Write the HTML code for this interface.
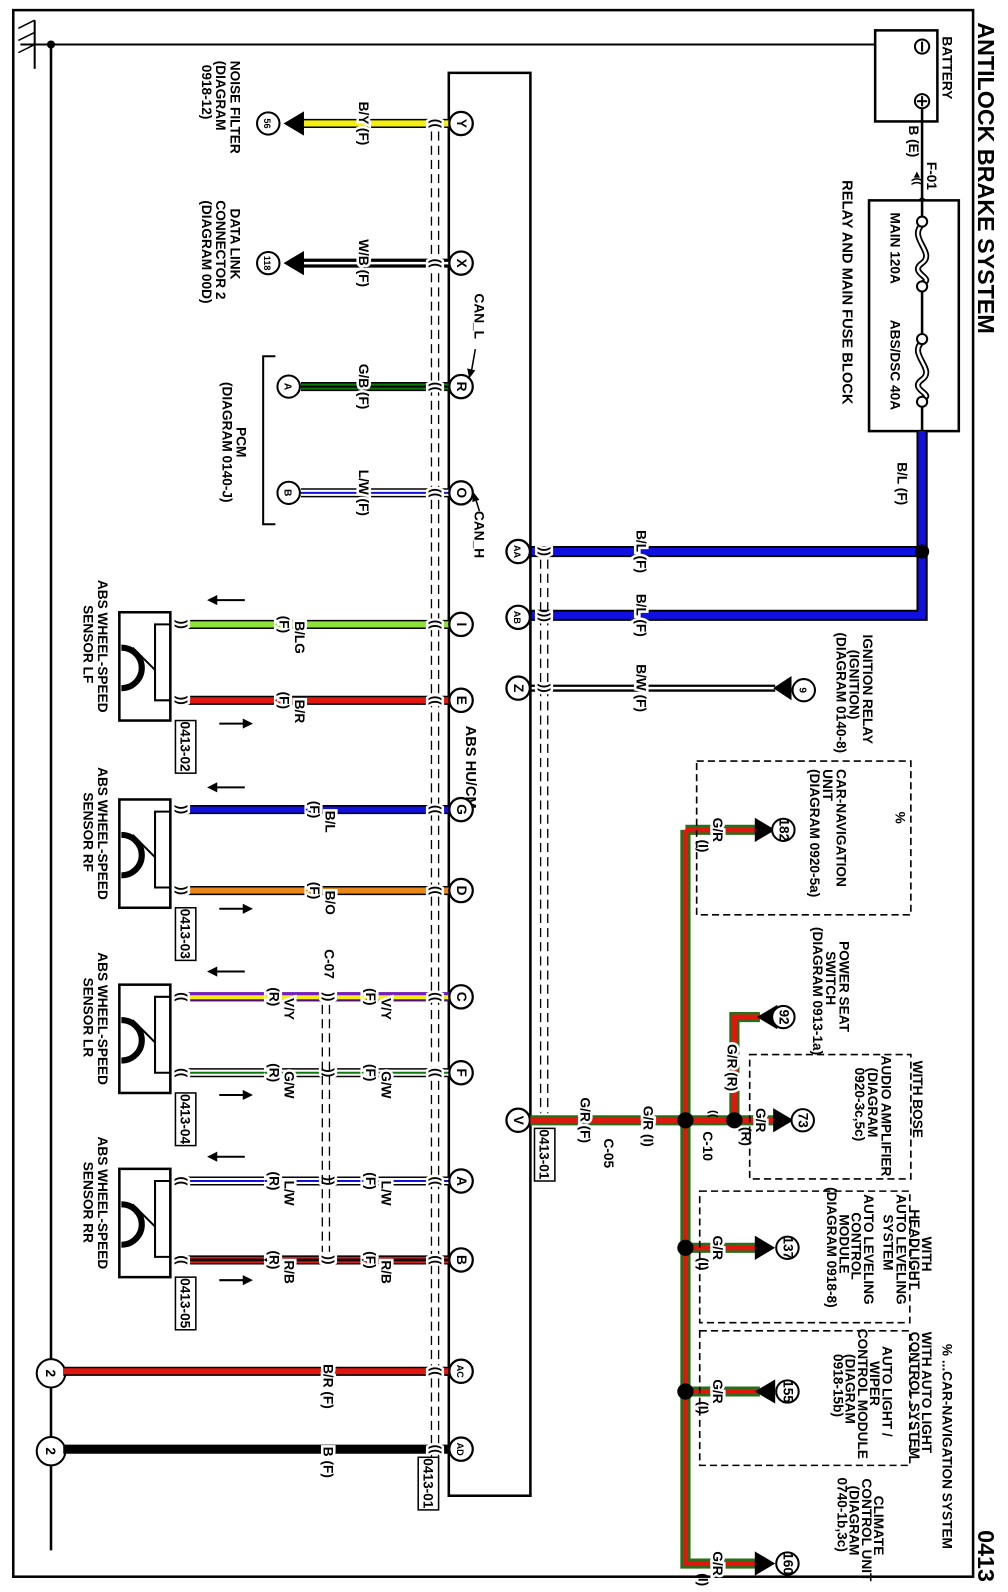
<!DOCTYPE html>
<html><head><meta charset="utf-8"><style>
html,body{margin:0;padding:0;background:#fff}
svg{display:block}
text{font-family:"Liberation Sans",sans-serif;font-weight:bold;font-size:13.5px;fill:#000}
.lb{stroke:#fff;stroke-width:5px;paint-order:stroke}
.k{stroke:#000;fill:none}
.d{stroke:#000;stroke-dasharray:7 4;fill:none;stroke-width:1.6}
</style></head><body>
<svg width="1008" height="1592" viewBox="0 0 1008 1592" xmlns="http://www.w3.org/2000/svg">
<g transform="scale(1.02,1.012)">
<rect x="13" y="10" width="941" height="1548" fill="none" stroke="#000" stroke-width="2.5"/>
<text transform="translate(959,22) rotate(90)" style="font-size:23px">ANTILOCK BRAKE SYSTEM</text>
<text transform="translate(959,1512) rotate(90)" style="font-size:23px">0413</text>
<line x1="20" y1="44" x2="868" y2="44" class="k" stroke-width="2"/>
<line x1="50" y1="44" x2="50" y2="1532" class="k" stroke-width="2.5"/>
<circle cx="50" cy="44" r="4"/>
<line x1="34" y1="20" x2="34" y2="68" class="k" stroke-width="2"/>
<line x1="18" y1="28" x2="34" y2="20" class="k" stroke-width="1.5"/><line x1="18" y1="40" x2="34" y2="32" class="k" stroke-width="1.5"/><line x1="18" y1="52" x2="34" y2="44" class="k" stroke-width="1.5"/>
<circle cx="50" cy="1357" r="14" fill="#fff" stroke="#000" stroke-width="2"/><text transform="translate(45,1357) rotate(90)" text-anchor="middle">2</text>
<circle cx="50" cy="1434" r="14" fill="#fff" stroke="#000" stroke-width="2"/><text transform="translate(45,1434) rotate(90)" text-anchor="middle">2</text>
<rect x="858" y="30" width="61" height="90" fill="#fff" stroke="#000" stroke-width="2.5"/>
<circle cx="904" cy="46" r="7" fill="#fff" stroke="#000" stroke-width="2"/><line x1="904" y1="41" x2="904" y2="51" class="k" stroke-width="2"/>
<circle cx="904" cy="100" r="7" fill="#fff" stroke="#000" stroke-width="2"/><line x1="904" y1="95" x2="904" y2="105" class="k" stroke-width="2"/><line x1="899" y1="100" x2="909" y2="100" class="k" stroke-width="2"/>
<text transform="translate(924,36) rotate(90)">BATTERY</text>
<line x1="904" y1="107" x2="904" y2="200" class="k" stroke-width="2.5"/>
<text transform="translate(891,124) rotate(90)">B (E)</text>
<text transform="translate(909,160) rotate(90)">F-01</text>
<text transform="translate(896,170) rotate(90)" style="font-size:11px">◂((</text>
<circle cx="904" cy="198" r="3"/>
<rect x="852" y="198" width="88" height="228" fill="#fff" stroke="#000" stroke-width="2.5"/>
<line x1="904" y1="198" x2="904" y2="218" class="k" stroke-width="2.5"/>
<line x1="904" y1="284" x2="904" y2="334" class="k" stroke-width="2.5"/>
<line x1="904" y1="398" x2="904" y2="426" class="k" stroke-width="2.5"/>
<path d="M904 222 C890 235,918 250,904 260 C890 270,918 275,904 280" class="k" stroke-width="6"/>
<path d="M904 222 C890 235,918 250,904 260 C890 270,918 275,904 280" stroke="#fff" stroke-width="2.5" fill="none"/>
<path d="M904 338 C890 350,918 365,904 375 C890 385,918 390,904 394" class="k" stroke-width="6"/>
<path d="M904 338 C890 350,918 365,904 375 C890 385,918 390,904 394" stroke="#fff" stroke-width="2.5" fill="none"/>
<circle cx="904" cy="219" r="5" fill="#fff" stroke="#000" stroke-width="2"/><circle cx="904" cy="283" r="5" fill="#fff" stroke="#000" stroke-width="2"/>
<circle cx="904" cy="335" r="5" fill="#fff" stroke="#000" stroke-width="2"/><circle cx="904" cy="397" r="5" fill="#fff" stroke="#000" stroke-width="2"/>
<text transform="translate(873,210) rotate(90)">MAIN 120A</text>
<text transform="translate(873,316) rotate(90)">ABS/DSC 40A</text>
<text transform="translate(826,178) rotate(90)" style="font-size:14.5px">RELAY AND MAIN FUSE BLOCK</text>
<path d="M904 426 V608 H520 M904 545 H520" stroke="#000" stroke-width="11" fill="none"/>
<path d="M904 426 V608 H520 M904 545 H520" stroke="#1010e0" stroke-width="7" fill="none"/>
<circle cx="904" cy="545" r="7"/>
<text class="lb" transform="translate(880,478) rotate(90)" text-anchor="middle">B/L (F)</text>
<text class="lb" transform="translate(624,545) rotate(90)" text-anchor="middle">B/L (F)</text>
<text class="lb" transform="translate(624,608) rotate(90)" text-anchor="middle">B/L (F)</text>
<line x1="520" y1="680" x2="760" y2="680" stroke="#000" stroke-width="7"/><line x1="520" y1="680" x2="760" y2="680" stroke="#fff" stroke-width="2.5"/>
<polygon points="758,680 776,668 776,692"/>
<circle cx="788" cy="682" r="11" fill="#fff" stroke="#000" stroke-width="2"/><text transform="translate(784,682) rotate(90)" text-anchor="middle" style="font-size:10px">9</text>
<text class="lb" transform="translate(624,680) rotate(90)" text-anchor="middle">B/W (F)</text>
<text transform="translate(846,627) rotate(90)">IGNITION RELAY</text>
<text transform="translate(833,642) rotate(90)">(IGNITION)</text>
<text transform="translate(820,625) rotate(90)">(DIAGRAM 0140-8)</text>
<rect x="440" y="72" width="80" height="1406" fill="#fff" stroke="#000" stroke-width="2.5"/>
<text transform="translate(457,717) rotate(90)" style="font-size:14.5px">ABS HU/CM</text>
<line x1="423" y1="130" x2="423" y2="1440" stroke="#000" stroke-width="1.3" stroke-dasharray="9 5"/>
<line x1="430" y1="130" x2="430" y2="1440" stroke="#000" stroke-width="1.3" stroke-dasharray="9 5"/>
<line x1="530" y1="553" x2="530" y2="1100" stroke="#000" stroke-width="1.3" stroke-dasharray="9 5"/>
<line x1="537" y1="553" x2="537" y2="1100" stroke="#000" stroke-width="1.3" stroke-dasharray="9 5"/>
<g stroke-width="9" stroke="#000">
<line x1="295" y1="122" x2="440" y2="122"/><line x1="295" y1="260" x2="440" y2="260"/>
<line x1="295" y1="382" x2="440" y2="382"/><line x1="295" y1="487" x2="440" y2="487"/>
<line x1="178" y1="617" x2="440" y2="617"/><line x1="178" y1="692" x2="440" y2="692"/>
<line x1="178" y1="800" x2="440" y2="800"/><line x1="178" y1="880" x2="440" y2="880"/>
<line x1="178" y1="985" x2="440" y2="985"/><line x1="178" y1="1060" x2="440" y2="1060"/>
<line x1="178" y1="1167" x2="440" y2="1167"/><line x1="178" y1="1245" x2="440" y2="1245"/>
<line x1="62" y1="1355" x2="440" y2="1355"/><line x1="62" y1="1432" x2="440" y2="1432"/>
</g>
<g stroke-width="6">
<line x1="295" y1="122" x2="440" y2="122" stroke="#f4ef10"/>
<line x1="295" y1="260" x2="440" y2="260" stroke="#fff" stroke-width="2.5"/>
<line x1="295" y1="382" x2="440" y2="382" stroke="#0b7a0b"/>
<line x1="295" y1="487" x2="440" y2="487" stroke="#fff"/>
<line x1="178" y1="617" x2="440" y2="617" stroke="#8de23a"/>
<line x1="178" y1="692" x2="440" y2="692" stroke="#e0170f"/>
<line x1="178" y1="800" x2="440" y2="800" stroke="#1010e0"/>
<line x1="178" y1="880" x2="440" y2="880" stroke="#e8861a"/>
<line x1="178" y1="985" x2="440" y2="985" stroke="#f4ef10"/>
<line x1="178" y1="1060" x2="440" y2="1060" stroke="#fff"/>
<line x1="178" y1="1167" x2="440" y2="1167" stroke="#fff"/>
<line x1="178" y1="1245" x2="440" y2="1245" stroke="#e0170f"/>
<line x1="62" y1="1355" x2="440" y2="1355" stroke="#e0170f"/>
</g>
<g stroke-width="2">
<line x1="295" y1="382" x2="440" y2="382" stroke="#000"/>
<line x1="295" y1="487" x2="440" y2="487" stroke="#1010e0"/>
<line x1="178" y1="982" x2="440" y2="982" stroke="#7a18c8" stroke-width="3"/>
<line x1="178" y1="988" x2="440" y2="988" stroke="#7a18c8" stroke-width="1.5"/>
<line x1="178" y1="1060" x2="440" y2="1060" stroke="#0b7a0b"/>
<line x1="178" y1="1167" x2="440" y2="1167" stroke="#1010e0"/>
<line x1="178" y1="1245" x2="440" y2="1245" stroke="#000" stroke-width="2.5"/>
</g>
<g fill="#fff" stroke="#000" stroke-width="2.2">
<circle cx="452" cy="122" r="11.5"/><circle cx="452" cy="260" r="11.5"/><circle cx="452" cy="382" r="11.5"/><circle cx="452" cy="487" r="11.5"/>
<circle cx="452" cy="617" r="11.5"/><circle cx="452" cy="692" r="11.5"/><circle cx="452" cy="800" r="11.5"/><circle cx="452" cy="880" r="11.5"/>
<circle cx="452" cy="985" r="11.5"/><circle cx="452" cy="1060" r="11.5"/><circle cx="452" cy="1167" r="11.5"/><circle cx="452" cy="1245" r="11.5"/>
<circle cx="452" cy="1355" r="11.5"/><circle cx="452" cy="1432" r="11.5"/>
<circle cx="508" cy="545" r="11.5"/><circle cx="508" cy="610" r="11.5"/><circle cx="508" cy="680" r="11.5"/><circle cx="508" cy="1107" r="11.5"/>
</g>
<g style="font-size:12px" text-anchor="middle">
<text transform="translate(448,122) rotate(90)">Y</text><text transform="translate(448,260) rotate(90)">X</text>
<text transform="translate(448,382) rotate(90)">R</text><text transform="translate(448,487) rotate(90)">O</text>
<text transform="translate(448,617) rotate(90)">I</text><text transform="translate(448,692) rotate(90)">E</text>
<text transform="translate(448,800) rotate(90)">G</text><text transform="translate(448,880) rotate(90)">D</text>
<text transform="translate(448,985) rotate(90)">C</text><text transform="translate(448,1060) rotate(90)">F</text>
<text transform="translate(448,1167) rotate(90)">A</text><text transform="translate(448,1245) rotate(90)">B</text>
<text transform="translate(448,1355) rotate(90)" style="font-size:9px">AC</text><text transform="translate(448,1432) rotate(90)" style="font-size:9px">AD</text>
<text transform="translate(504,545) rotate(90)" style="font-size:9px">AA</text><text transform="translate(504,610) rotate(90)" style="font-size:9px">AB</text>
<text transform="translate(504,680) rotate(90)">Z</text><text transform="translate(504,1107) rotate(90)">V</text>
</g>
<g style="font-size:12px" text-anchor="middle">
<text class="lb" transform="translate(423,122) rotate(90)">((</text><text class="lb" transform="translate(423,260) rotate(90)">((</text>
<text class="lb" transform="translate(423,382) rotate(90)">((</text><text class="lb" transform="translate(423,487) rotate(90)">((</text>
<text class="lb" transform="translate(423,617) rotate(90)">((</text><text class="lb" transform="translate(423,692) rotate(90)">((</text>
<text class="lb" transform="translate(423,800) rotate(90)">((</text><text class="lb" transform="translate(423,880) rotate(90)">((</text>
<text class="lb" transform="translate(423,985) rotate(90)">((</text><text class="lb" transform="translate(423,1060) rotate(90)">((</text>
<text class="lb" transform="translate(423,1167) rotate(90)">((</text><text class="lb" transform="translate(423,1245) rotate(90)">((</text>
<text class="lb" transform="translate(423,1355) rotate(90)">((</text><text class="lb" transform="translate(423,1432) rotate(90)">((</text>
<text class="lb" transform="translate(530,545) rotate(90)">))</text><text class="lb" transform="translate(530,610) rotate(90)">))</text>
<text class="lb" transform="translate(530,680) rotate(90)">))</text><text class="lb" transform="translate(530,1107) rotate(90)">))</text>
<text class="lb" transform="translate(174,617) rotate(90)">))</text><text class="lb" transform="translate(174,692) rotate(90)">))</text>
<text class="lb" transform="translate(174,800) rotate(90)">))</text><text class="lb" transform="translate(174,880) rotate(90)">))</text>
<text class="lb" transform="translate(174,985) rotate(90)">((</text><text class="lb" transform="translate(174,1060) rotate(90)">((</text>
<text class="lb" transform="translate(174,1167) rotate(90)">((</text><text class="lb" transform="translate(174,1245) rotate(90)">((</text>
<text class="lb" transform="translate(318,985) rotate(90)">))</text><text class="lb" transform="translate(318,1060) rotate(90)">))</text>
<text class="lb" transform="translate(318,1167) rotate(90)">))</text><text class="lb" transform="translate(318,1245) rotate(90)">))</text>
</g>
<line x1="316" y1="993" x2="316" y2="1237" stroke="#000" stroke-width="1.3" stroke-dasharray="9 5"/>
<line x1="323" y1="993" x2="323" y2="1237" stroke="#000" stroke-width="1.3" stroke-dasharray="9 5"/>
<text transform="translate(318,938) rotate(90)">C-07</text>
<g text-anchor="middle">
<text class="lb" transform="translate(352,122) rotate(90)">B/Y (F)</text>
<text class="lb" transform="translate(352,260) rotate(90)">W/B (F)</text>
<text class="lb" transform="translate(352,382) rotate(90)">G/B (F)</text>
<text class="lb" transform="translate(352,487) rotate(90)">L/W (F)</text>
<text class="lb" transform="translate(289,630) rotate(90)">B/LG</text><text class="lb" transform="translate(274,617) rotate(90)">(F)</text>
<text class="lb" transform="translate(289,703) rotate(90)">B/R</text><text class="lb" transform="translate(274,692) rotate(90)">(F)</text>
<text class="lb" transform="translate(319,812) rotate(90)">B/L</text><text class="lb" transform="translate(304,800) rotate(90)">(F)</text>
<text class="lb" transform="translate(319,892) rotate(90)">B/O</text><text class="lb" transform="translate(304,880) rotate(90)">(F)</text>
<text class="lb" transform="translate(374,997) rotate(90)">V/Y</text><text class="lb" transform="translate(359,985) rotate(90)">(F)</text>
<text class="lb" transform="translate(279,997) rotate(90)">V/Y</text><text class="lb" transform="translate(264,985) rotate(90)">(R)</text>
<text class="lb" transform="translate(374,1072) rotate(90)">G/W</text><text class="lb" transform="translate(359,1060) rotate(90)">(F)</text>
<text class="lb" transform="translate(279,1072) rotate(90)">G/W</text><text class="lb" transform="translate(264,1060) rotate(90)">(R)</text>
<text class="lb" transform="translate(374,1179) rotate(90)">L/W</text><text class="lb" transform="translate(359,1167) rotate(90)">(F)</text>
<text class="lb" transform="translate(279,1179) rotate(90)">L/W</text><text class="lb" transform="translate(264,1167) rotate(90)">(R)</text>
<text class="lb" transform="translate(374,1257) rotate(90)">R/B</text><text class="lb" transform="translate(359,1245) rotate(90)">(F)</text>
<text class="lb" transform="translate(279,1257) rotate(90)">R/B</text><text class="lb" transform="translate(264,1245) rotate(90)">(R)</text>
<text class="lb" transform="translate(317,1370) rotate(90)">B/R (F)</text>
<text class="lb" transform="translate(317,1445) rotate(90)">B (F)</text>
</g>
<polygon points="278,122 298,110 298,134"/><circle cx="263" cy="122" r="11" fill="#fff" stroke="#000" stroke-width="2"/><text transform="translate(259,122) rotate(90)" text-anchor="middle" style="font-size:9px">56</text>
<polygon points="278,260 298,248 298,272"/><circle cx="263" cy="260" r="11" fill="#fff" stroke="#000" stroke-width="2"/><text transform="translate(259,260) rotate(90)" text-anchor="middle" style="font-size:9px">118</text>
<circle cx="283" cy="382" r="11" fill="#fff" stroke="#000" stroke-width="2"/><text transform="translate(279,382) rotate(90)" text-anchor="middle" style="font-size:10px">A</text>
<circle cx="283" cy="487" r="11" fill="#fff" stroke="#000" stroke-width="2"/><text transform="translate(279,487) rotate(90)" text-anchor="middle" style="font-size:10px">B</text>
<path d="M270 352 H258 V518 H270" class="k" stroke-width="2"/>
<text transform="translate(226,60) rotate(90)">NOISE FILTER</text><text transform="translate(212,60) rotate(90)">(DIAGRAM</text><text transform="translate(198,64) rotate(90)">0918-12)</text>
<text transform="translate(226,206) rotate(90)">DATA LINK</text><text transform="translate(212,198) rotate(90)">CONNECTOR 2</text><text transform="translate(198,198) rotate(90)">(DIAGRAM 00D)</text>
<text transform="translate(232,437) rotate(90)" text-anchor="middle">PCM</text><text transform="translate(218,437) rotate(90)" text-anchor="middle">(DIAGRAM 0140-J)</text>
<text transform="translate(465,290) rotate(90)">CAN_L</text><path d="M466 345 L462 368" class="k" stroke-width="1.5"/><polygon points="460,374 458,364 466,366"/>
<text transform="translate(465,505) rotate(90)">CAN_H</text><path d="M470 505 L466 492" class="k" stroke-width="1.5"/><polygon points="464,486 463,496 470,494"/>
<g id="s1">
<rect x="117" y="605" width="50" height="107" fill="#fff" stroke="#000" stroke-width="2.5"/>
<path d="M167 617 H152 V692 H167" class="k" stroke-width="2"/>
<path d="M119 640 A20 20 0 0 1 119 680" class="k" stroke-width="6"/>
<line x1="130" y1="640" x2="152" y2="662" class="k" stroke-width="2"/>
</g>
<use href="#s1" y="185"/><use href="#s1" y="368"/><use href="#s1" y="550"/>
<text transform="translate(96,573) rotate(90)">ABS WHEEL-SPEED</text><text transform="translate(82,598) rotate(90)">SENSOR LF</text>
<text transform="translate(96,758) rotate(90)">ABS WHEEL-SPEED</text><text transform="translate(82,783) rotate(90)">SENSOR RF</text>
<text transform="translate(96,941) rotate(90)">ABS WHEEL-SPEED</text><text transform="translate(82,966) rotate(90)">SENSOR LR</text>
<text transform="translate(96,1123) rotate(90)">ABS WHEEL-SPEED</text><text transform="translate(82,1148) rotate(90)">SENSOR RR</text>
<g fill="#fff" stroke="#000" stroke-width="1.5">
<rect x="172" y="712" width="20" height="52"/><rect x="172" y="897" width="20" height="52"/><rect x="172" y="1080" width="20" height="52"/><rect x="172" y="1262" width="20" height="52"/>
<rect x="410" y="1440" width="20" height="52"/><rect x="524" y="1115" width="20" height="52"/>
</g>
<g style="font-size:12px">
<text transform="translate(177,713) rotate(90)">0413-02</text><text transform="translate(177,898) rotate(90)">0413-03</text>
<text transform="translate(177,1081) rotate(90)">0413-04</text><text transform="translate(177,1263) rotate(90)">0413-05</text>
<text transform="translate(415,1441) rotate(90)">0413-01</text><text transform="translate(529,1116) rotate(90)">0413-01</text>
</g>
<g stroke="#000" stroke-width="2">
<line x1="210" y1="593" x2="240" y2="593"/><line x1="210" y1="778" x2="240" y2="778"/><line x1="210" y1="960" x2="240" y2="960"/><line x1="210" y1="1143" x2="240" y2="1143"/>
<line x1="215" y1="715" x2="240" y2="715"/><line x1="215" y1="898" x2="240" y2="898"/><line x1="215" y1="1082" x2="240" y2="1082"/><line x1="215" y1="1265" x2="240" y2="1265"/>
</g>
<g>
<polygon points="203,593 213,588 213,598"/><polygon points="203,778 213,773 213,783"/><polygon points="203,960 213,955 213,965"/><polygon points="203,1143 213,1138 213,1148"/>
<polygon points="248,715 238,710 238,720"/><polygon points="248,898 238,893 238,903"/><polygon points="248,1082 238,1077 238,1087"/><polygon points="248,1265 238,1260 238,1270"/>
</g>
<path d="M520 1107 H765 M672 820 V1545 H745 M672 820 H745 M720 1107 V1005 H745 M672 1233 H745 M672 1375 H745" stroke="#2a6e1a" stroke-width="10" fill="none"/>
<path d="M520 1107 H765 M672 820 V1545 H745 M672 820 H745 M720 1107 V1005 H745 M672 1233 H745 M672 1375 H745" stroke="#e0170f" stroke-width="5" fill="none"/>
<circle cx="672" cy="1107" r="8"/><circle cx="720" cy="1107" r="8"/><circle cx="672" cy="1233" r="8"/><circle cx="672" cy="1375" r="8"/>
<g>
<polygon points="760,820 740,808 740,832"/><polygon points="742,1005 762,993 762,1017"/><polygon points="778,1107 758,1095 758,1119"/>
<polygon points="760,1233 740,1221 740,1245"/><polygon points="740,1375 760,1363 760,1387"/><polygon points="760,1545 740,1533 740,1557"/>
</g>
<g fill="#fff" stroke="#000" stroke-width="2">
<circle cx="768" cy="820" r="11"/><circle cx="768" cy="1005" r="11"/><circle cx="787" cy="1107" r="11"/><circle cx="772" cy="1233" r="11"/><circle cx="772" cy="1375" r="11"/><circle cx="772" cy="1545" r="11"/>
</g>
<g style="font-size:9px" text-anchor="middle">
<text transform="translate(764,820) rotate(90)">182</text><text transform="translate(764,1005) rotate(90)">92</text><text transform="translate(783,1107) rotate(90)">73</text>
<text transform="translate(768,1233) rotate(90)">137</text><text transform="translate(768,1375) rotate(90)">155</text><text transform="translate(768,1545) rotate(90)">160</text>
</g>
<g text-anchor="middle">
<text class="lb" transform="translate(699,820) rotate(90)">G/R</text><text transform="translate(685,836) rotate(90)">(I)</text>
<text class="lb" transform="translate(713,1055) rotate(90)">G/R (R)</text>
<text class="lb" transform="translate(741,1107) rotate(90)">G/R</text><text transform="translate(727,1123) rotate(90)">(R)</text>
<text class="lb" transform="translate(699,1233) rotate(90)">G/R</text><text transform="translate(685,1249) rotate(90)">(I)</text>
<text class="lb" transform="translate(699,1375) rotate(90)">G/R</text><text transform="translate(685,1391) rotate(90)">(I)</text>
<text class="lb" transform="translate(699,1545) rotate(90)">G/R</text><text transform="translate(685,1561) rotate(90)">(I)</text>
<text class="lb" transform="translate(631,1113) rotate(90)">G/R (I)</text>
<text class="lb" transform="translate(569,1107) rotate(90)">G/R (F)</text>
</g>
<text transform="translate(592,1125) rotate(90)">C-05</text>
<text transform="translate(689,1118) rotate(90)">C-10</text>
<text transform="translate(696,1097) rotate(90)" style="font-size:11px">((</text>
<rect x="683" y="752" width="210" height="152" class="d"/>
<rect x="735" y="1042" width="158" height="123" class="d"/>
<rect x="686" y="1177" width="206" height="130" class="d"/>
<rect x="686" y="1315" width="206" height="133" class="d"/>
<text transform="translate(878,802) rotate(90)">%</text>
<text transform="translate(820,760) rotate(90)">CAR-NAVIGATION</text><text transform="translate(807,760) rotate(90)">UNIT</text><text transform="translate(794,760) rotate(90)">(DIAGRAM 0920-5a)</text>
<text transform="translate(823,930) rotate(90)">POWER SEAT</text><text transform="translate(810,940) rotate(90)">SWITCH</text><text transform="translate(797,916) rotate(90)">(DIAGRAM 0913-1a)</text>
<text transform="translate(895,1048) rotate(90)">WITH BOSE</text>
<text transform="translate(864,1043) rotate(90)">AUDIO AMPLIFIER</text><text transform="translate(851,1055) rotate(90)">(DIAGRAM</text><text transform="translate(838,1055) rotate(90)">0920-3c,5c)</text>
<text transform="translate(904,1222) rotate(90)">WITH</text><text transform="translate(892,1195) rotate(90)">HEADLIGHT</text><text transform="translate(879,1180) rotate(90)">AUTO LEVELING</text><text transform="translate(866,1200) rotate(90)">SYSTEM</text>
<text transform="translate(847,1180) rotate(90)">AUTO LEVELING</text><text transform="translate(835,1198) rotate(90)">CONTROL</text><text transform="translate(823,1200) rotate(90)">MODULE</text><text transform="translate(811,1173) rotate(90)">(DIAGRAM 0918-8)</text>
<text transform="translate(904,1316) rotate(90)">WITH AUTO LIGHT</text><text transform="translate(892,1316) rotate(90)">CONTROL SYSTEM</text>
<text transform="translate(865,1330) rotate(90)">AUTO LIGHT /</text><text transform="translate(853,1345) rotate(90)">WIPER</text><text transform="translate(841,1313) rotate(90)">CONTROL MODULE</text><text transform="translate(829,1338) rotate(90)">(DIAGRAM</text><text transform="translate(817,1338) rotate(90)">0918-15b)</text>
<text transform="translate(857,1478) rotate(90)">CLIMATE</text><text transform="translate(845,1461) rotate(90)">CONTROL UNIT</text><text transform="translate(833,1468) rotate(90)">(DIAGRAM</text><text transform="translate(821,1460) rotate(90)">0740-1b,3c)</text>
<text transform="translate(924,1328) rotate(90)">% ...CAR-NAVIGATION SYSTEM</text>
</g>
</svg>
</body></html>
